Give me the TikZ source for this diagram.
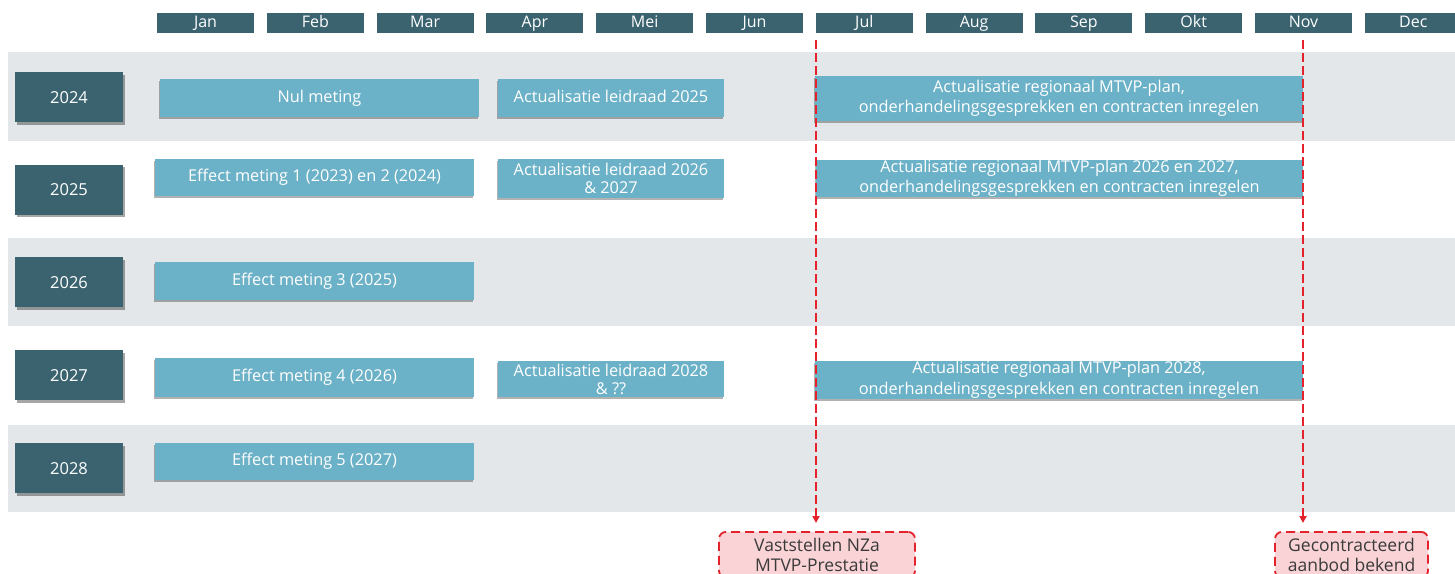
\documentclass[tikz,border=0pt]{standalone}
\usepackage{fontspec}
\setmainfont{Open Sans}
\usetikzlibrary{shadows,arrows.meta}
\definecolor{dteal}{HTML}{3A636F}
\definecolor{lblue}{HTML}{6BB1C7}
\definecolor{band}{HTML}{E3E7E9}
\definecolor{mred}{HTML}{E3222B}
\definecolor{pinkf}{HTML}{F9D3D6}
\definecolor{txtd}{HTML}{3A3A3A}
\tikzset{
  month/.style={fill=dteal, text=white, minimum width=97pt, minimum height=20pt, inner sep=0pt,
    text height=11.5pt, text depth=3.5pt, font=\fontsize{16}{18}\selectfont},
  year/.style={fill=dteal, text=white, minimum width=108pt, minimum height=50pt, inner sep=0pt, font=\fontsize{16.5}{18}\selectfont,
    text height=12pt, text depth=0pt,
    drop shadow={shadow xshift=1.5pt, shadow yshift=-2.5pt, opacity=0.35, fill=black}},
  act/.style={fill=lblue, text=white, inner sep=0pt, align=center, font=\fontsize{16.3}{18}\selectfont,
    drop shadow={shadow xshift=-1.5pt, shadow yshift=-1.5pt, opacity=0.3, fill=black}},
  act1/.style={act, text height=12pt, text depth=4pt},
  actw/.style={act, font=\fontsize{16.3}{20.5}\selectfont},
  redline/.style={draw=mred, line width=1.8pt, dash pattern=on 9pt off 4pt},
  milestone/.style={draw=mred, fill=pinkf, line width=1.8pt, dash pattern=on 9pt off 5pt, rounded corners=7pt,
    text=txtd, align=center, inner sep=0pt, font=\fontsize{17.5}{20}\selectfont},
}
\begin{document}
\begin{tikzpicture}[x=1pt,y=-1pt]
\clip (0,0) rectangle (1455,573);
\fill[white] (0,0) rectangle (1455,573);
% bands
\fill[band] (8,52) rectangle (1455,141);
\fill[band] (8,238) rectangle (1455,326);
\fill[band] (8,425) rectangle (1455,512);
% months
\foreach \m [count=\i from 0] in {Jan,Feb,Mar,Apr,Mei,Jun,Jul,Aug,Sep,Okt,Nov,Dec}
  \node[month] (m\i) at ({205.5+109.8*\i},23) {\m};
% years
\node[year] (y2024) at (69,97) {2024};
\node[year] (y2025) at (69,189.5) {2025};
\node[year] (y2026) at (69,282) {2026};
\node[year] (y2027) at (69,375) {2027};
\node[year] (y2028) at (69,468) {2028};
% activities
\node[act1, minimum width=319pt, minimum height=38pt] (a1) at (319.5,98) {Nul meting};
\node[act1, minimum width=226pt, minimum height=38pt] (a2) at (611,98) {Actualisatie leidraad 2025};
\node[actw, minimum width=488pt, minimum height=45pt] (a3) at (1059,98.5) {Actualisatie regionaal MTVP-plan,\\onderhandelingsgesprekken en contracten inregelen};
\node[act1, minimum width=319pt, minimum height=37pt] (b1) at (314.5,177.5) {Effect meting 1 (2023) en 2 (2024)};
\node[act, minimum width=226pt, minimum height=39pt] (b2) at (611,178.5) {Actualisatie leidraad 2026\\\& 2027};
\node[actw, minimum width=487pt, minimum height=37pt] (b3) at (1059.5,178.5) {Actualisatie regionaal MTVP-plan 2026 en 2027,\\onderhandelingsgesprekken en contracten inregelen};
\node[act1, minimum width=319pt, minimum height=38pt] (c1) at (314.5,281) {Effect meting 3 (2025)};
\node[act1, minimum width=319pt, minimum height=39pt] (d1) at (314.5,377.5) {Effect meting 4 (2026)};
\node[act, minimum width=226pt, minimum height=36pt] (d2) at (611,379) {Actualisatie leidraad 2028\\\& ??};
\node[actw, minimum width=488pt, minimum height=38pt] (d3) at (1059,380) {Actualisatie regionaal MTVP-plan 2028,\\onderhandelingsgesprekken en contracten inregelen};
\node[act1, minimum width=319pt, minimum height=37pt] (e1) at (314.5,461.5) {Effect meting 5 (2027)};
% milestones
\node[milestone, minimum width=196pt, minimum height=46pt, anchor=north] (ms1) at (817,531) {Vaststellen NZa\\MTVP-Prestatie};
\node[milestone, minimum width=153pt, minimum height=46pt, anchor=north] (ms2) at (1351.5,531) {Gecontracteerd\\aanbod bekend};
\coordinate (t1) at (816,40);
\coordinate (t2) at (1303,40);
\draw[redline, -{Triangle[length=7pt,width=7pt]}, shorten >=8pt] (t1) -- (t1 |- ms1.north);
\draw[redline, -{Triangle[length=7pt,width=7pt]}, shorten >=8pt] (t2) -- (t2 |- ms2.north);
\end{tikzpicture}
\end{document}
